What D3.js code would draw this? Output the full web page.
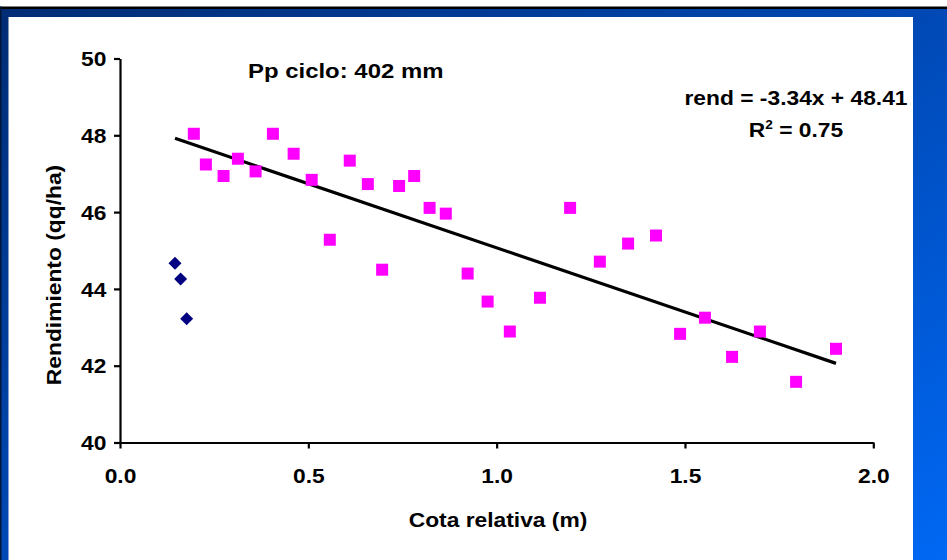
<!DOCTYPE html>
<html>
<head>
<meta charset="utf-8">
<script src="https://cdn.jsdelivr.net/npm/d3@7/dist/d3.min.js"></script>
<style>
  html, body { margin: 0; padding: 0; background: #fff; }
  svg { display: block; }
  text { font-family: Arial, "Liberation Sans", sans-serif; font-weight: bold; fill: #000; }
</style>
</head>
<body>
<svg id="chart" width="947" height="560"></svg>
<script>
// Rendimiento vs cota relativa
const cotaMain = [0.196, 0.228, 0.275, 0.313, 0.360, 0.406, 0.461, 0.509, 0.557, 0.610,
                  0.658, 0.696, 0.741, 0.781, 0.822, 0.865, 0.923, 0.976, 1.035, 1.115,
                  1.195, 1.274, 1.349, 1.423, 1.487, 1.553, 1.625, 1.699, 1.795, 1.901];
const rendMain = [48.04, 47.24, 46.94, 47.39, 47.06, 48.04, 47.52, 46.84, 45.28, 47.34,
                  46.73, 44.50, 46.68, 46.94, 46.11, 45.96, 44.40, 43.67, 42.89, 43.77,
                  46.11, 44.71, 45.18, 45.39, 42.83, 43.25, 42.23, 42.89, 41.58, 42.44];
const cotaLow = [0.146, 0.161, 0.177];
const rendLow = [44.67, 44.26, 43.22];

// Regression fit: rend = slope * x + intercept
const slope = -3.34;
const intercept = 48.41;
const r2 = 0.75;

const xTicks = [0, 0.5, 1.0, 1.5, 2.0];
const yTicks = [40, 42, 44, 46, 48, 50];

const W = 947, H = 560;
const STRETCH = 1.14;

const svg = d3.select("#chart");

// Slide frame: blue gradient with a dark rule on top
const defs = svg.append("defs");
const grad = defs.append("linearGradient")
  .attr("id", "frameGrad")
  .attr("x1", "0%").attr("y1", "0%").attr("x2", "100%").attr("y2", "100%");
grad.append("stop").attr("offset", "0%").attr("stop-color", "#002c74");
grad.append("stop").attr("offset", "55%").attr("stop-color", "#004cbc");
grad.append("stop").attr("offset", "100%").attr("stop-color", "#0068f4");

svg.append("rect").attr("x", 0).attr("y", 0).attr("width", W).attr("height", H).attr("fill", "#fff");
svg.append("rect").attr("x", 0).attr("y", 7).attr("width", W).attr("height", H - 7).attr("fill", "url(#frameGrad)");
svg.append("rect").attr("x", 0).attr("y", 6.5).attr("width", W).attr("height", 2.5).attr("fill", "#000");
svg.append("rect").attr("x", 0).attr("y", 6.5).attr("width", 1.5).attr("height", H).attr("fill", "#00163a");
svg.append("rect").attr("x", 8.5).attr("y", 17).attr("width", 904.5).attr("height", H - 17).attr("fill", "#fff");

// Scales
const x = d3.scaleLinear().domain([0, 2]).range([120, 873.3]);
const y = d3.scaleLinear().domain([40, 50]).range([442.5, 58.5]);

// Axes
const yAxis = svg.append("g")
  .attr("transform", `translate(${x(0)},0)`)
  .call(d3.axisLeft(y).tickValues(yTicks).tickSize(6).tickSizeOuter(0).tickPadding(6)
        .tickFormat(d3.format("d")));
const xAxis = svg.append("g")
  .attr("transform", `translate(0,${y(40)})`)
  .call(d3.axisBottom(x).tickValues(xTicks).tickSize(6).tickSizeOuter(0).tickPadding(20)
        .tickFormat(d3.format(".1f")));

[yAxis, xAxis].forEach(g => {
  g.select(".domain").attr("stroke", "#000").attr("stroke-width", 2.2);
  g.selectAll(".tick line").attr("stroke", "#000").attr("stroke-width", 2.2);
  g.selectAll(".tick text")
    .attr("font-family", "Arial, 'Liberation Sans', sans-serif")
    .attr("font-weight", "bold")
    .attr("font-size", 20)
    .attr("fill", "#000")
    .attr("transform", `scale(${STRETCH},1)`);
});
yAxis.selectAll(".tick text").attr("dy", "0.36em");

// Trend line over the full range of observations
const allX = cotaMain.concat(cotaLow);
const xExt = d3.extent(allX);
const fit = xExt.map(v => ({ x: v, y: slope * v + intercept }));
svg.append("path")
  .datum(fit)
  .attr("fill", "none")
  .attr("stroke", "#000")
  .attr("stroke-width", 3.2)
  .attr("d", d3.line().x(d => x(d.x)).y(d => y(d.y)));

// Observations (magenta squares)
const main = cotaMain.map((c, i) => ({ x: c, y: rendMain[i] }));
svg.append("g").selectAll("path")
  .data(main)
  .join("path")
  .attr("transform", d => `translate(${x(d.x)},${y(d.y)})`)
  .attr("d", d3.symbol().type(d3.symbolSquare).size(144))
  .attr("fill", "#ff00ff");

// Low-elevation group (navy diamonds)
const low = cotaLow.map((c, i) => ({ x: c, y: rendLow[i] }));
svg.append("g").selectAll("path")
  .data(low)
  .join("path")
  .attr("transform", d => `translate(${x(d.x)},${y(d.y)}) rotate(45)`)
  .attr("d", d3.symbol().type(d3.symbolSquare).size(84))
  .attr("fill", "#000080");

// Text helper with horizontal stretch
function label(px, py, str, size, anchor, rot) {
  const t = svg.append("text")
    .attr("transform", `translate(${px},${py})${rot ? ` rotate(${rot})` : ""} scale(${STRETCH},1)`)
    .attr("text-anchor", anchor)
    .attr("font-size", size);
  if (str !== null) t.text(str);
  return t;
}

// Axis titles
label(498, 527, "Cota relativa (m)", 20, "middle");
label(61, 275, "Rendimiento (qq/ha)", 20, "middle", -90);

// Rainfall annotation
label(248, 78, "Pp ciclo: 402 mm", 21, "start");

// Regression equation and R² (plain hyphen for the sign)
const fmt = v => d3.format(".2f")(v).replace("\u2212", "-");
label(796, 105, `rend = ${fmt(slope)}x + ${fmt(intercept)}`, 20, "middle");
const r2Text = label(796, 137, null, 20, "middle");
r2Text.append("tspan").text("R");
r2Text.append("tspan").attr("font-size", 12).attr("dy", -8).text("2");
r2Text.append("tspan").attr("dy", 8).text(` = ${fmt(r2)}`);
</script>
</body>
</html>
